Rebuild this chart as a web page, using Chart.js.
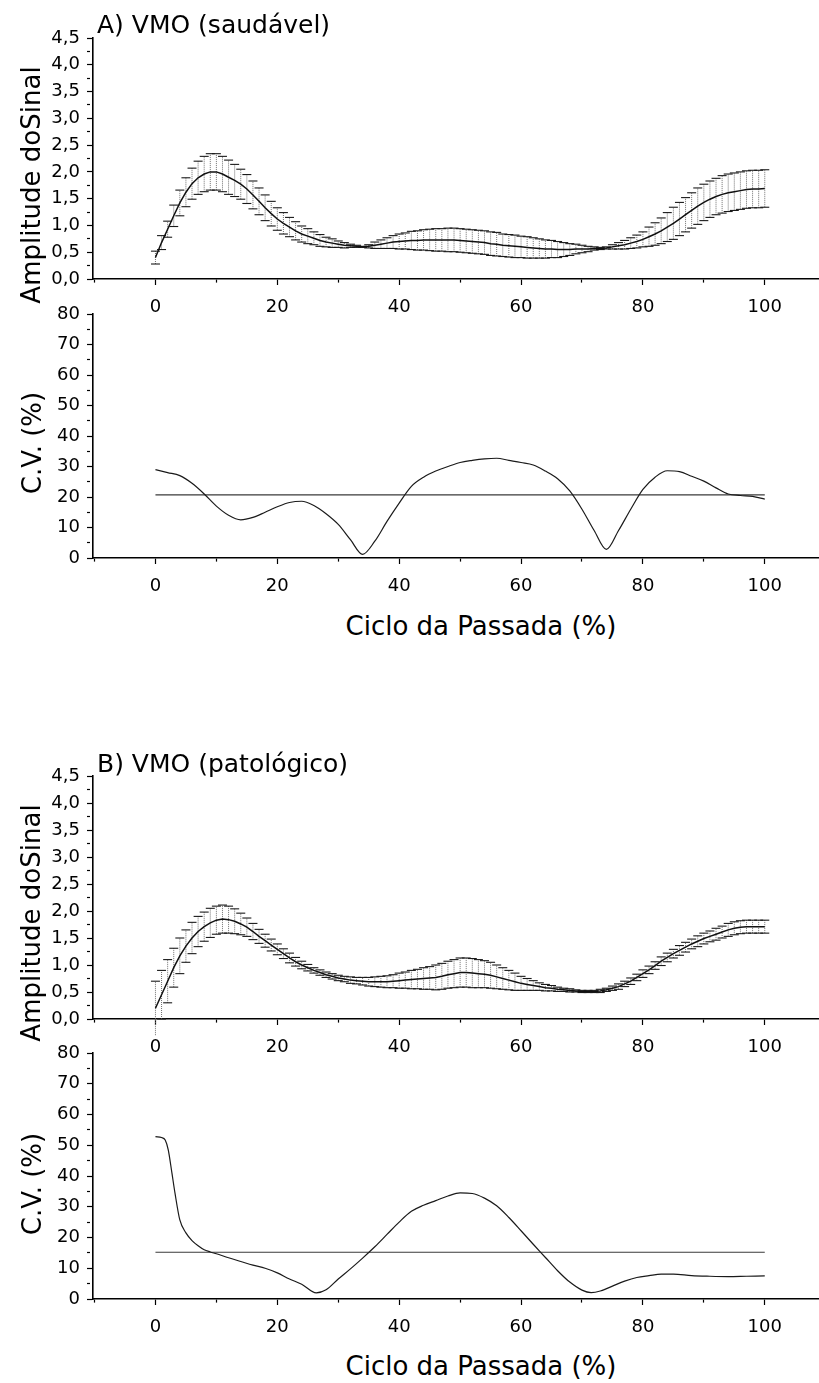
<!DOCTYPE html>
<html>
<head>
<meta charset="utf-8">
<script src="https://cdn.jsdelivr.net/npm/chart.js@4"></script>
<style>
  body { margin: 0; background: #fff; width: 819px; height: 1383px; position: relative; overflow: hidden; font-family: "DejaVu Sans", sans-serif; color: #000; }
  canvas { position: absolute; left: 0; }
  .t { position: absolute; white-space: nowrap; line-height: 1; }
  .rot { transform: translate(-50%, -50%) rotate(-90deg); }
  .mid { transform: translateX(-50%); }
</style>
</head>
<body>
<canvas id="ampA" width="819" height="319" style="top:0px"></canvas>
<canvas id="cvA" width="819" height="318" style="top:280px"></canvas>
<canvas id="ampB" width="819" height="321" style="top:738px"></canvas>
<canvas id="cvB" width="819" height="320" style="top:1019px"></canvas>

<div class="t" style="left:97px;top:12px;font-size:25px">A) VMO (saudável)</div>
<div class="t rot" style="left:31px;top:185px;font-size:26px">Amplitude doSinal</div>
<div class="t rot" style="left:32px;top:443px;font-size:26px">C.V. (%)</div>
<div class="t mid" style="left:481px;top:613px;font-size:26px">Ciclo da Passada (%)</div>

<div class="t" style="left:97px;top:751px;font-size:25px">B) VMO (patológico)</div>
<div class="t rot" style="left:31px;top:923px;font-size:26px">Amplitude doSinal</div>
<div class="t rot" style="left:32px;top:1184px;font-size:26px">C.V. (%)</div>
<div class="t mid" style="left:481px;top:1353px;font-size:26px">Ciclo da Passada (%)</div>

<script>
// eixo x: ciclo da passada (%)
const pct = Array.from({length: 101}, (_, i) => i);

const xTickValues = [0, 20, 40, 60, 80, 100];
const xTickLabels = ['0', '20', '40', '60', '80', '100'];
const xMinorTicks = [-10, 10, 30, 50, 70, 90];

const ampTickValues = [0, 0.5, 1, 1.5, 2, 2.5, 3, 3.5, 4, 4.5];
const ampTickLabels = ['0,0', '0,5', '1,0', '1,5', '2,0', '2,5', '3,0', '3,5', '4,0', '4,5'];
const ampMinorTicks = [0.25, 0.75, 1.25, 1.75, 2.25, 2.75, 3.25, 3.75, 4.25];

const cvTickValues = [0, 10, 20, 30, 40, 50, 60, 70, 80];
const cvTickLabels = ['0', '10', '20', '30', '40', '50', '60', '70', '80'];
const cvMinorTicks = [5, 15, 25, 35, 45, 55, 65, 75];

// A) VMO saudável - média e desvio padrão
const meanA = [
  0.40, 0.68, 0.93, 1.18, 1.42, 1.62, 1.78, 1.89, 1.96, 2.00,
  2.00, 1.96, 1.90, 1.84, 1.77, 1.68, 1.57, 1.45, 1.33, 1.22,
  1.12, 1.04, 0.97, 0.90, 0.84, 0.80, 0.76, 0.72, 0.69, 0.67,
  0.65, 0.63, 0.62, 0.61, 0.60, 0.61, 0.63, 0.65, 0.67, 0.69,
  0.70, 0.71, 0.72, 0.72, 0.73, 0.73, 0.73, 0.73, 0.73, 0.73,
  0.72, 0.71, 0.70, 0.69, 0.68, 0.66, 0.65, 0.63, 0.62, 0.61,
  0.60, 0.59, 0.58, 0.57, 0.56, 0.56, 0.55, 0.55, 0.55, 0.56,
  0.56, 0.56, 0.57, 0.57, 0.58, 0.60, 0.62, 0.64, 0.67, 0.70,
  0.74, 0.79, 0.84, 0.90, 0.97, 1.04, 1.12, 1.20, 1.28, 1.36,
  1.43, 1.49, 1.54, 1.58, 1.61, 1.63, 1.65, 1.67, 1.68, 1.68,
  1.69
];
const sdA = [
  0.12, 0.13, 0.15, 0.20, 0.24, 0.27, 0.29, 0.31, 0.33, 0.34,
  0.34, 0.33, 0.32, 0.30, 0.28, 0.27, 0.26, 0.25, 0.24, 0.23,
  0.21, 0.20, 0.18, 0.17, 0.15, 0.14, 0.12, 0.11, 0.09, 0.08,
  0.06, 0.05, 0.03, 0.02, 0.01, 0.03, 0.06, 0.08, 0.10, 0.12,
  0.14, 0.15, 0.17, 0.18, 0.19, 0.20, 0.21, 0.21, 0.22, 0.22,
  0.22, 0.22, 0.22, 0.22, 0.22, 0.22, 0.22, 0.21, 0.21, 0.21,
  0.20, 0.20, 0.19, 0.18, 0.17, 0.16, 0.15, 0.13, 0.11, 0.09,
  0.07, 0.05, 0.03, 0.02, 0.02, 0.04, 0.06, 0.08, 0.10, 0.12,
  0.14, 0.18, 0.21, 0.24, 0.27, 0.30, 0.31, 0.32, 0.33, 0.34,
  0.34, 0.34, 0.34, 0.35, 0.35, 0.35, 0.35, 0.35, 0.35, 0.35,
  0.35
];

// B) VMO patológico - média e desvio padrão
const meanB = [
  0.20, 0.45, 0.70, 0.95, 1.17, 1.35, 1.50, 1.62, 1.71, 1.78,
  1.83, 1.85, 1.84, 1.81, 1.76, 1.70, 1.62, 1.53, 1.45, 1.37,
  1.29, 1.21, 1.13, 1.06, 1.00, 0.95, 0.90, 0.86, 0.82, 0.79,
  0.76, 0.74, 0.72, 0.71, 0.70, 0.69, 0.69, 0.69, 0.69, 0.70,
  0.71, 0.72, 0.73, 0.74, 0.75, 0.76, 0.77, 0.79, 0.82, 0.84,
  0.86, 0.86, 0.85, 0.84, 0.83, 0.81, 0.78, 0.75, 0.72, 0.69,
  0.66, 0.64, 0.62, 0.60, 0.58, 0.57, 0.55, 0.54, 0.53, 0.52,
  0.51, 0.51, 0.51, 0.52, 0.54, 0.57, 0.60, 0.65, 0.70, 0.77,
  0.84, 0.91, 0.99, 1.07, 1.14, 1.21, 1.27, 1.33, 1.39, 1.44,
  1.49, 1.53, 1.57, 1.61, 1.65, 1.68, 1.70, 1.71, 1.71, 1.71,
  1.71
];
const sdB = [
  0.50, 0.45, 0.40, 0.36, 0.33, 0.30, 0.29, 0.28, 0.27, 0.27,
  0.26, 0.26, 0.25, 0.23, 0.20, 0.17, 0.15, 0.13, 0.12, 0.11,
  0.10, 0.09, 0.09, 0.08, 0.07, 0.06, 0.05, 0.05, 0.05, 0.05,
  0.05, 0.05, 0.06, 0.06, 0.07, 0.08, 0.09, 0.10, 0.11, 0.12,
  0.14, 0.15, 0.17, 0.18, 0.20, 0.21, 0.23, 0.24, 0.25, 0.26,
  0.27, 0.27, 0.27, 0.26, 0.25, 0.24, 0.22, 0.20, 0.18, 0.16,
  0.13, 0.11, 0.09, 0.07, 0.06, 0.05, 0.04, 0.03, 0.03, 0.02,
  0.02, 0.02, 0.02, 0.03, 0.03, 0.04, 0.05, 0.05, 0.06, 0.06,
  0.07, 0.07, 0.07, 0.08, 0.08, 0.08, 0.09, 0.09, 0.09, 0.10,
  0.10, 0.10, 0.11, 0.11, 0.12, 0.12, 0.12, 0.12, 0.12, 0.12,
  0.12
];

// coeficiente de variação (%)
const cvAx = [0, 2, 4, 6, 8, 10, 12, 14, 16, 18, 20, 22, 24, 26, 28, 30, 32, 34, 36, 38, 40, 42, 44, 46, 48, 50,
  52, 54, 56, 58, 60, 62, 64, 66, 68, 70, 72, 74, 76, 78, 80, 82, 84, 86, 88, 90, 92, 94, 96, 98, 100];
const cvA = [29, 28, 27, 24.5, 21, 17, 14, 12.5, 13.3, 15, 16.8, 18.2, 18.6, 17.2, 14.5, 11, 6, 1.2, 5.5, 12, 18, 23.5, 26.5, 28.5, 30, 31.3,
  32, 32.5, 32.7, 32, 31.3, 30.5, 28.5, 26, 22, 16, 9, 2.8, 9, 16, 22.5, 26.5, 28.6, 28.3, 26.8, 25.2, 23, 21, 20.5, 20.2, 19.3];

const cvBx = [0, 1, 1.6, 2.1, 2.7, 3.2, 4, 5, 6, 7, 8, 9, 10, 12, 14, 16, 18, 20, 22, 24, 26.4, 28, 30, 32, 34, 36, 38, 40,
  42, 44, 46, 48, 50, 52, 54, 56, 58, 60, 62, 64, 66, 68, 70, 71.5, 73, 75, 77, 79, 81, 83, 85, 88, 91, 94, 97, 100];
const cvB = [52.8, 52.5, 51.7, 48.5, 41, 34.5, 25.7, 21.5, 19, 17.3, 16, 15.3, 14.7, 13.4, 12.2, 11, 10, 8.5, 6.5, 4.8, 2, 3, 6.5, 9.8, 13.3, 17, 21, 25,
  28.5, 30.5, 32, 33.5, 34.5, 34.3, 32.8, 30.3, 26.5, 22.2, 17.8, 13.5, 9.2, 5.5, 2.9, 2.1, 2.6, 4.2, 5.8, 7, 7.6, 8.1, 8.1, 7.6, 7.4, 7.3, 7.4, 7.5];

// linha média do C.V.
const limitX = [0, 100];
const limitA = [20.7, 20.7];
const limitB = [15.2, 15.2];

const tickFont = { family: 'DejaVu Sans', size: 18 };

function axes(yMin, yMax, yMajor, yMinor, yLabels) {
  return {
    x: {
      type: 'linear', min: -10.25, max: 108.9,
      afterBuildTicks: s => { s.ticks = xTickValues.concat(xMinorTicks).sort((a, b) => a - b).map(v => ({ value: v })); },
      afterFit: s => { s.height = 40; },
      ticks: {
        autoSkip: false, maxRotation: 0, padding: 12, color: '#000', font: tickFont,
        callback: v => { const i = xTickValues.indexOf(v); return i < 0 ? '' : xTickLabels[i]; }
      },
      grid: {
        drawOnChartArea: false, tickLength: 6, tickColor: '#000', tickWidth: 1.2,
        tickBorderDash: c => (c.tick && xTickValues.indexOf(c.tick.value) < 0) ? [3, 20] : []
      },
      border: { color: '#000', width: 1.6 }
    },
    y: {
      min: yMin, max: yMax,
      afterBuildTicks: s => { s.ticks = yMajor.concat(yMinor).sort((a, b) => a - b).map(v => ({ value: v })); },
      afterFit: s => { s.width = 93; },
      ticks: {
        autoSkip: false, padding: 7, color: '#000', font: tickFont,
        callback: v => { const i = yMajor.indexOf(v); return i < 0 ? '' : yLabels[i]; }
      },
      grid: {
        drawOnChartArea: false, tickLength: 6, tickColor: '#000', tickWidth: 1.2,
        tickBorderDash: c => (c.tick && yMajor.indexOf(c.tick.value) < 0) ? [3, 20] : []
      },
      border: { color: '#000', width: 1.6 }
    }
  };
}

const baseOpts = {
  responsive: false,
  animation: false,
  events: [],
  plugins: { legend: { display: false }, tooltip: { enabled: false } }
};

function ampChart(id, mean, sd) {
  const meanPts = pct.map((x, i) => ({ x: x, y: mean[i] }));
  const stems = [];
  const caps = [];
  pct.forEach((x, i) => {
    stems.push({ x: x, y: mean[i] - sd[i] }, { x: x, y: mean[i] + sd[i] }, { x: x, y: null });
    caps.push({ x: x, y: mean[i] - sd[i] }, { x: x, y: mean[i] + sd[i] });
  });
  return new Chart(document.getElementById(id), {
    type: 'line',
    data: {
      datasets: [
        { data: meanPts, borderColor: '#111', borderWidth: 1.5, pointRadius: 0, tension: 0, clip: false },
        { data: caps, showLine: false, pointStyle: 'line', pointRadius: 4.5, pointBorderColor: '#1a1a1a', pointBorderWidth: 1.1, clip: false },
        { data: stems, borderColor: '#707070', borderWidth: 1, borderDash: [1, 1], pointRadius: 0, spanGaps: false, clip: false }
      ]
    },
    options: Object.assign({}, baseOpts, {
      layout: { autoPadding: false, padding: { top: 38, left: 0, right: 0, bottom: 0 } },
      scales: axes(0, 4.5, ampTickValues, ampMinorTicks, ampTickLabels)
    })
  });
}

function cvChart(id, xs, cv, limit) {
  return new Chart(document.getElementById(id), {
    type: 'line',
    data: {
      datasets: [
        { data: xs.map((x, i) => ({ x: x, y: cv[i] })), borderColor: '#1a1a1a', borderWidth: 1.2, pointRadius: 0, cubicInterpolationMode: 'monotone' },
        { data: limitX.map((x, i) => ({ x: x, y: limit[i] })), borderColor: '#3a3a3a', borderWidth: 1.2, pointRadius: 0 }
      ]
    },
    options: Object.assign({}, baseOpts, {
      layout: { autoPadding: false, padding: { top: 34, left: 0, right: 0, bottom: 0 } },
      scales: axes(0, 80, cvTickValues, cvMinorTicks, cvTickLabels)
    })
  });
}

ampChart('ampA', meanA, sdA);
cvChart('cvA', cvAx, cvA, limitA);
ampChart('ampB', meanB, sdB);
cvChart('cvB', cvBx, cvB, limitB);
</script>
</body>
</html>
